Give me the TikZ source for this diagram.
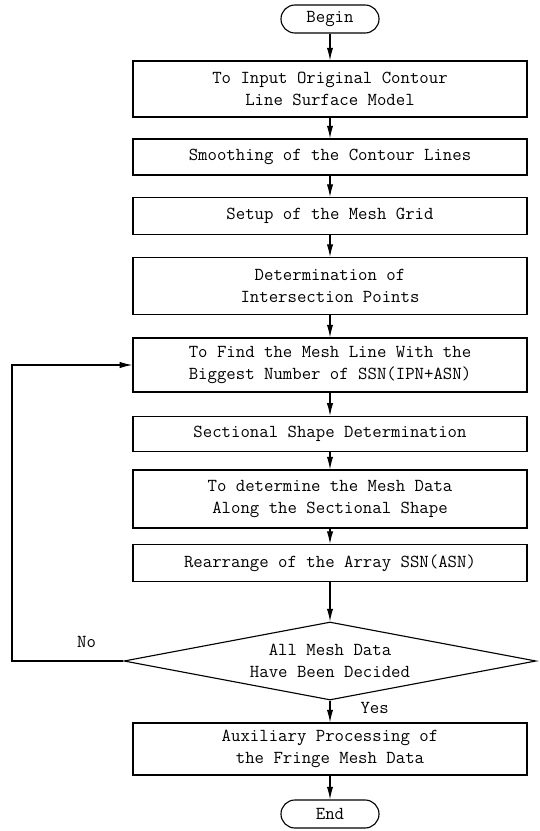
\documentclass[tikz,border=0pt]{standalone}
\usetikzlibrary{shapes.geometric,arrows.meta}

\begin{document}
\begin{tikzpicture}[x=0.025cm,y=-0.025cm,
  font=\fontsize{13}{16}\selectfont\ttfamily,
  every node/.style={align=center},
  procbox/.style={draw,thick,minimum width=9.85cm,inner sep=0pt},
  termbox/.style={draw,thick,rounded corners=0.35cm,minimum width=2.45cm,minimum height=0.7cm,inner sep=0pt},
  decbox/.style={draw,thick,diamond,aspect=5.26,minimum width=10.3cm,minimum height=1.95cm,inner sep=0pt},
  arr/.style={thick,-{Latex[length=9pt,width=4.5pt]}}]

\useasboundingbox (0,0) rectangle (540,831);

% terminals and boxes
\node[termbox] (begin) at (330,19) {Begin};
\node[procbox,minimum height=1.4cm] (input) at (330,89) {To Input Original Contour\\Line Surface Model};
\node[procbox,minimum height=0.9cm] (smooth) at (330,157) {Smoothing of the Contour Lines};
\node[procbox,minimum height=0.92cm] (grid) at (330,216) {Setup of the Mesh Grid};
\node[procbox,minimum height=1.42cm] (inters) at (330,286) {Determination of\\Intersection Points};
\node[procbox,minimum height=1.35cm] (findline) at (330,365) {To Find the Mesh Line With the\\Biggest Number of SSN(IPN+ASN)};
\node[procbox,minimum height=0.88cm] (section) at (330,434) {Sectional Shape Determination};
\node[procbox,minimum height=1.45cm] (meshdata) at (330,499) {To determine the Mesh Data\\Along the Sectional Shape};
\node[procbox,minimum height=0.92cm] (rearr) at (330,563) {Rearrange of the Array SSN(ASN)};
\node[decbox] (decided) at (330,661) {All Mesh Data\\Have Been Decided};
\node[procbox,minimum height=1.3cm] (fringe) at (330,749) {Auxiliary Processing of\\the Fringe Mesh Data};
\node[termbox] (end) at (330,814) {End};

% main flow
\draw[arr] (begin) -- (input);
\draw[arr] (input) -- (smooth);
\draw[arr] (smooth) -- (grid);
\draw[arr] (grid) -- (inters);
\draw[arr] (inters) -- (findline);
\draw[arr] (findline) -- (section);
\draw[arr] (section) -- (meshdata);
\draw[arr] (meshdata) -- (rearr);
\draw[arr] (rearr) -- (decided);
\draw[arr] (decided) -- node[right=18pt,pos=0.35] (yes) {Yes} (fringe);
\draw[arr] (fringe) -- (end);

% loop back
\coordinate (loop) at (12,661);
\draw[arr] (decided.west) -- node[above=6pt,pos=0.33] (no) {No} (loop) |- (findline.west);

\end{tikzpicture}
\end{document}
